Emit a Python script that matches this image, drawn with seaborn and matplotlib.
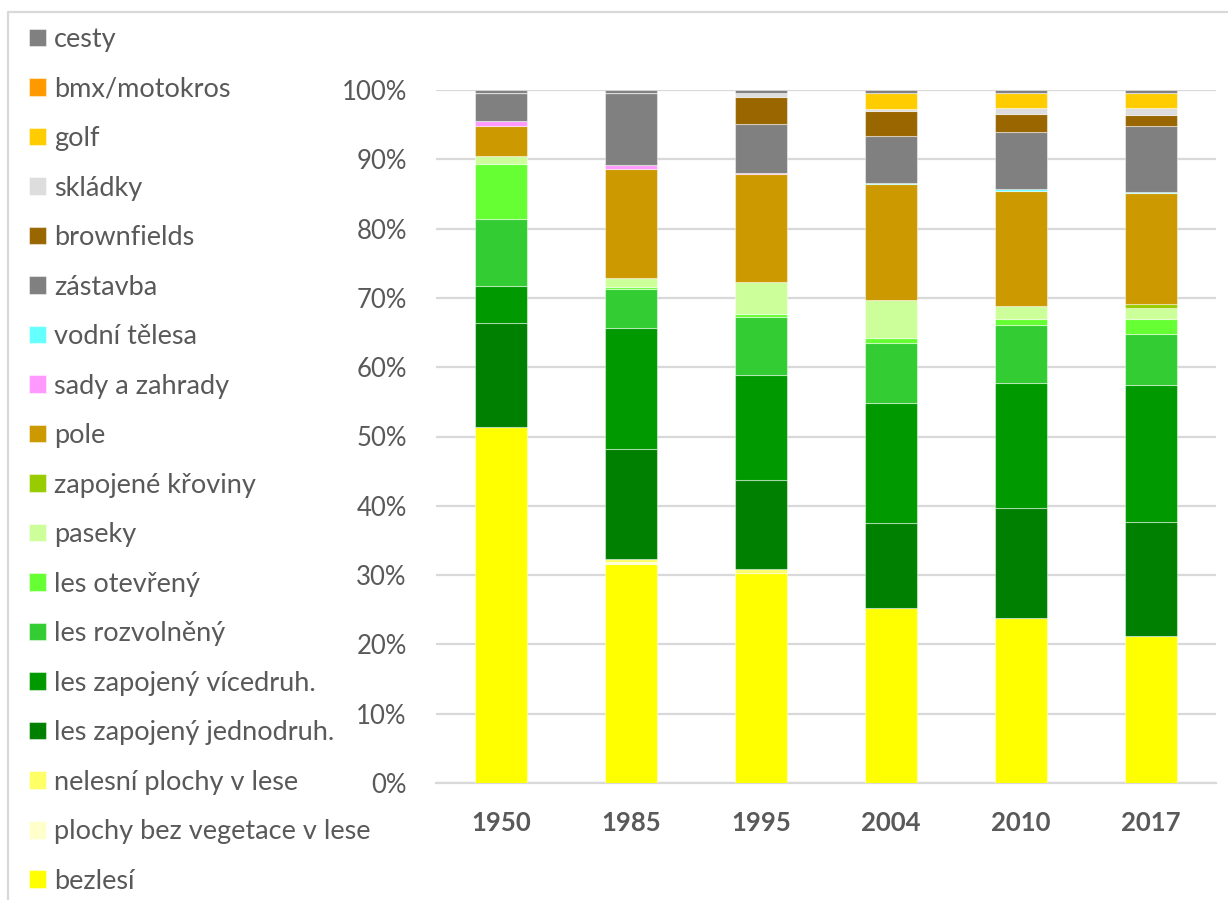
import numpy as np
import pandas as pd
import matplotlib
matplotlib.use("Agg")
import matplotlib.pyplot as plt
from matplotlib.lines import Line2D
import seaborn as sns

# Survey years
years = ["1950", "1985", "1995", "2004", "2010", "2017"]

# Land-cover classes, listed from the bottom of each stack to the top
classes = [
    "bezlesí", "plochy bez vegetace v lese", "nelesní plochy v lese",
    "les zapojený jednodruh.", "les zapojený vícedruh.", "les rozvolněný",
    "les otevřený", "paseky", "zapojené křoviny", "pole", "sady a zahrady",
    "vodní tělesa", "zástavba", "brownfields", "skládky", "golf",
    "bmx/motokros", "cesty",
]

# Share of area (%) per class and year
bezlesi        = [51.4, 31.6, 30.35, 25.2, 23.85, 21.25]
bez_vegetace   = [0.0, 0.4, 0.0, 0.0, 0.0, 0.0]
nelesni        = [0.0, 0.3, 0.6, 0.0, 0.0, 0.0]
jednodruh      = [15.0, 15.9, 12.8, 12.3, 15.8, 16.45]
vicedruh       = [5.4, 17.5, 15.25, 17.4, 18.1, 19.8]
rozvolneny     = [9.6, 5.7, 8.3, 8.6, 8.3, 7.3]
otevreny       = [8.0, 0.35, 0.5, 0.7, 0.9, 2.1]
paseky         = [1.15, 1.2, 4.6, 5.5, 1.9, 1.7]
kroviny        = [0.0, 0.0, 0.0, 0.0, 0.0, 0.5]
pole           = [4.4, 15.8, 15.5, 16.8, 16.6, 16.0]
sady           = [0.65, 0.5, 0.2, 0.0, 0.0, 0.0]
vodni          = [0.0, 0.0, 0.0, 0.15, 0.15, 0.15]
zastavba       = [4.0, 10.4, 7.1, 6.8, 8.3, 9.5]
brownfields    = [0.0, 0.0, 3.9, 3.5, 2.55, 1.7]
skladky        = [0.0, 0.0, 0.5, 0.4, 0.9, 0.95]
golf           = [0.0, 0.0, 0.0, 2.2, 2.1, 2.1]
bmx            = [0.0, 0.0, 0.0, 0.0, 0.0, 0.0]
cesty          = [0.5, 0.5, 0.5, 0.5, 0.5, 0.5]

series = [bezlesi, bez_vegetace, nelesni, jednodruh, vicedruh, rozvolneny,
          otevreny, paseky, kroviny, pole, sady, vodni, zastavba, brownfields,
          skladky, golf, bmx, cesty]

colors = ["#FFFF00", "#FFFFCC", "#FFFF66", "#008000", "#009900", "#33CC33",
          "#66FF33", "#CCFF99", "#99CC00", "#CC9900", "#FF99FF", "#66FFFF",
          "#808080", "#996600", "#DDDDDD", "#FFCC00", "#FF9900", "#808080"]

# 100 % stacked: normalise each year to its total
vals = np.array(series, dtype=float)
vals = vals / vals.sum(axis=0) * 100.0

sns.set_theme(style="white")
plt.rcParams["font.family"] = ["Lato", "DejaVu Sans"]
text_color = "#595959"
grid_color = "#D9D9D9"

fig = plt.figure(figsize=(12.28, 9.0), dpi=100)
ax = fig.add_axes([436 / 1228, 1 - 783 / 900, 780 / 1228, 693 / 900])

bottom = np.zeros(len(years))
for name, row, col in zip(classes, vals, colors):
    df = pd.DataFrame({"rok": years, "podil": row})
    sns.barplot(data=df, x="rok", y="podil", order=years, color=col,
                bottom=bottom, width=0.4, label=name, ax=ax,
                edgecolor=(1, 1, 1, 0.45), linewidth=0.8, saturation=1,
                zorder=3)
    bottom = bottom + row

if ax.get_legend() is not None:
    ax.get_legend().remove()

ax.set_xlim(-0.5, len(years) - 0.5)
ax.set_ylim(0, 100)
ax.set_yticks(np.arange(0, 101, 10))
ax.set_yticklabels([f"{v}%" for v in range(0, 101, 10)])
ax.yaxis.grid(True, color=grid_color, linewidth=1.6, zorder=0)
ax.set_axisbelow(True)
ax.set_xlabel("")
ax.set_ylabel("")
for side in ["top", "right", "left"]:
    ax.spines[side].set_visible(False)
ax.spines["bottom"].set_color(grid_color)
ax.spines["bottom"].set_linewidth(1.6)
ax.tick_params(axis="y", length=0, pad=21, labelsize=18.5, labelcolor=text_color)
ax.tick_params(axis="x", length=0, pad=20, labelsize=18.5, labelcolor=text_color)
for lbl in ax.get_xticklabels():
    lbl.set_fontweight("bold")

handles, labels = ax.get_legend_handles_labels()
leg = fig.legend(handles[::-1], labels[::-1], loc="upper left",
                 bbox_to_anchor=(29 / 1228, 1 - 27 / 900), frameon=False,
                 fontsize=19.5, labelcolor=text_color, handlelength=0.63,
                 handleheight=0.63, handletextpad=0.3, labelspacing=0.905,
                 borderpad=0, borderaxespad=0)

# Chart-area frame (left and top edges)
fig.add_artist(Line2D([8 / 1228, 8 / 1228], [0, 1 - 12 / 900],
                      transform=fig.transFigure, color=grid_color, lw=1.6))
fig.add_artist(Line2D([8 / 1228, 1], [1 - 12 / 900, 1 - 12 / 900],
                      transform=fig.transFigure, color=grid_color, lw=1.6))

fig.savefig("out.png", dpi=100, facecolor="white")
